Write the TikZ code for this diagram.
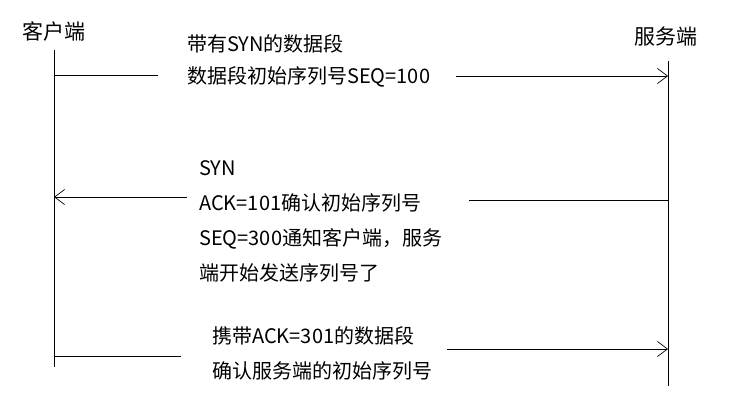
\documentclass[tikz,border=0pt]{standalone}
\usepackage{fontspec}
\newfontfamily\cjk{Noto Sans CJK SC}
\usetikzlibrary{arrows.meta}

\begin{document}
\begin{tikzpicture}[x=1pt, y=-1pt,
  party/.style={font=\cjk\fontsize{21}{24}\selectfont, inner sep=0pt},
  msg/.style={align=left, anchor=north west, inner sep=0pt},
  lifeline/.style={line width=0.9pt},
  signal/.style={line width=0.9pt, -{Straight Barb[length=10pt, width=15pt, line width=0.7pt]}}
]
\useasboundingbox (0,0) rectangle (751,415);

% parties
\node[party] (client) at (54,31) {客户端};
\node[party] (server) at (666,37) {服务端};

% lifelines
\coordinate (ctop) at (54,50);
\coordinate (cbot) at (54,367);
\coordinate (stop) at (668,61);
\coordinate (sbot) at (668,386);
\draw[lifeline] (ctop) -- (cbot);
\draw[lifeline] (stop) -- (sbot);

% client -> server: SYN
\node[msg, font=\cjk\fontsize{20}{32}\selectfont] (syn) at (187,34)
  {带有SYN的数据段\\数据段初始序列号SEQ=100};
\coordinate (c1) at (54,75);
\coordinate (c1e) at (158,75);
\coordinate (s1b) at (456,76);
\coordinate (s1) at (668,76);
\draw[lifeline] (c1) -- (c1e);
\draw[signal] (s1b) -- (s1);

% server -> client: SYN + ACK
\node[msg, font=\cjk\fontsize{20}{35}\selectfont] (synack) at (199,160)
  {SYN\\ACK=101确认初始序列号\\SEQ=300通知客户端，服务\\端开始发送序列号了};
\coordinate (s2) at (668,200);
\coordinate (s2b) at (469,200);
\coordinate (c2e) at (187,197);
\coordinate (c2) at (54,197);
\draw[lifeline] (s2) -- (s2b);
\draw[signal] (c2e) -- (c2);

% client -> server: ACK
\node[msg, font=\cjk\fontsize{20}{35}\selectfont] (ack) at (212,326)
  {携带ACK=301的数据段\\确认服务端的初始序列号};
\coordinate (c3) at (54,356);
\coordinate (c3e) at (181,356);
\coordinate (s3b) at (447,349);
\coordinate (s3) at (668,349);
\draw[lifeline] (c3) -- (c3e);
\draw[signal] (s3b) -- (s3);

\end{tikzpicture}
\end{document}
